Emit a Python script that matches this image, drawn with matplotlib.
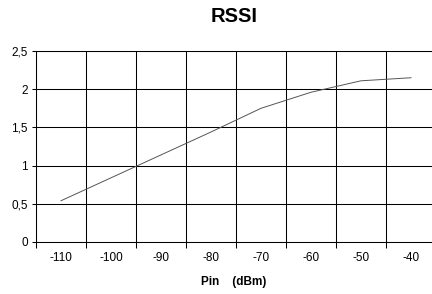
import numpy as np
import matplotlib.pyplot as plt
from matplotlib.ticker import FuncFormatter

plt.rcParams['font.family'] = ['Liberation Sans', 'DejaVu Sans']

# RSSI versus input power
pin = [-110, -100, -90, -80, -70, -60, -50, -40]
rssi = [0.54, 0.84, 1.14, 1.44, 1.75, 1.96, 2.11, 2.15]
xlabels = ["-110", "-100", "-90", "-80", "-70", "-60", "-50", "-40"]

fig = plt.figure(figsize=(4.32, 2.94), dpi=100)
ax = fig.add_axes([36 / 432, 1 - 242 / 294, 1 - 36 / 432, (242 - 51) / 294])

ax.plot(pin, rssi, color="#555555", lw=0.7, zorder=3)

# category boundaries -> gridlines, labels in the middle
bounds = np.arange(-115, -30, 10)
ax.set_xticks(bounds)
ax.set_xticklabels([""] * len(bounds))
ax.set_xticks(pin, minor=True)
ax.set_xticklabels(xlabels, minor=True)
ax.tick_params(axis="x", which="major", length=4, width=0.75, direction="out")
ax.tick_params(axis="x", which="minor", length=0, pad=7, labelsize=8.5)
ax.set_xlim(-115, -35.8)

ax.set_ylim(0, 2.5)
ax.set_yticks(np.arange(0, 2.51, 0.5))
ax.yaxis.set_major_formatter(FuncFormatter(lambda v, p: ("%g" % v).replace(".", ",")))
ax.tick_params(axis="y", length=3, width=0.75, direction="out", pad=3, labelsize=8.5)

ax.grid(True, which="major", color="black", lw=0.75)
ax.spines["right"].set_visible(False)
for s in ["left", "bottom", "top"]:
    ax.spines[s].set_linewidth(0.75)

fig.text(0.5 + 18 / 432, 1 - 17 / 294, "RSSI", ha="center", va="center",
         fontsize=14.5, fontweight="bold")
fig.text(0.5 + 18 / 432, 1 - 282 / 294, "Pin    (dBm)", ha="center", va="center",
         fontsize=8.5, fontweight="bold")

fig.savefig("out.png", dpi=100)
